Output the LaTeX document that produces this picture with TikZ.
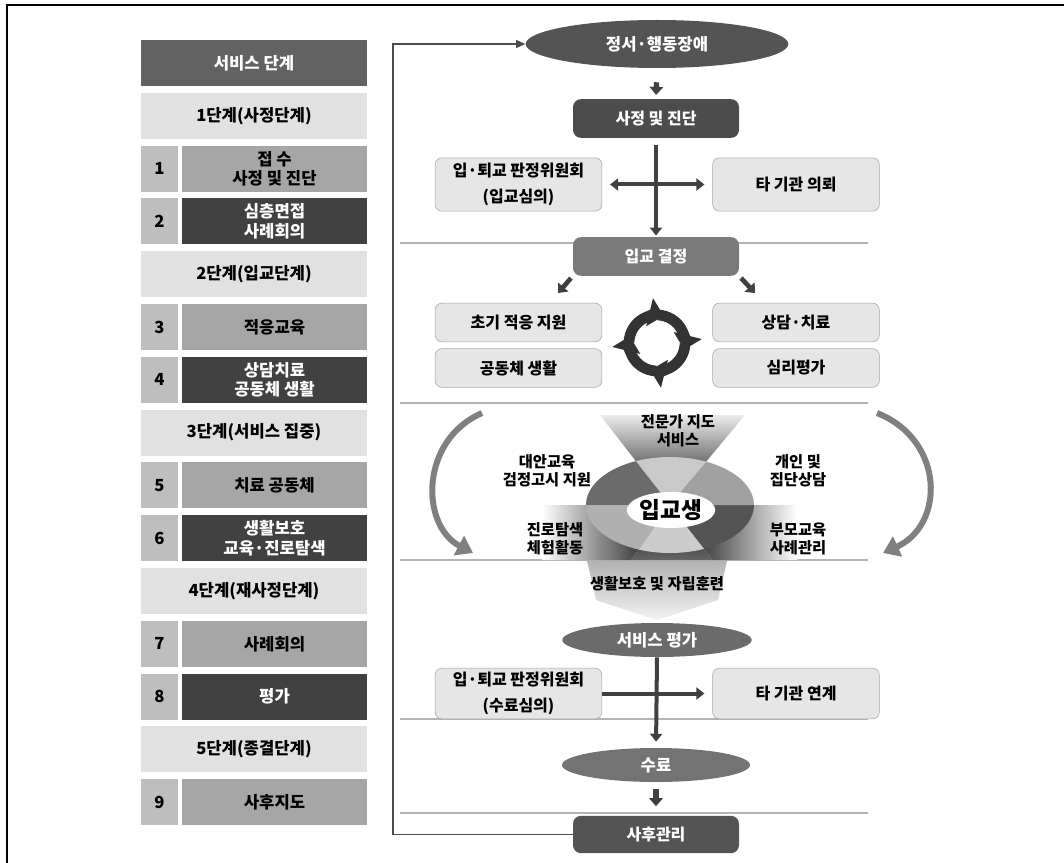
\documentclass[tikz,border=0pt]{standalone}
\usepackage{fontspec}
\setmainfont{Noto Sans CJK KR}
\usepackage{tikz}
\usetikzlibrary{shapes.geometric, arrows.meta, calc}

\definecolor{hdrgray}{HTML}{626262}
\definecolor{stagegray}{HTML}{E1E1E1}
\definecolor{numgray}{HTML}{BEBEBE}
\definecolor{midgray}{HTML}{A6A6A6}
\definecolor{darkgray}{HTML}{414141}
\definecolor{boxgray}{HTML}{E6E6E6}
\definecolor{linegray}{HTML}{B4B4B4}

\tikzset{
  hd/.tip={Triangle[length=6pt,width=9pt]},
  cell/.style={inner sep=0pt, align=center, minimum height=34.5pt,
    font=\fontsize{12.5}{14.5}\selectfont\bfseries},
  hdr/.style={cell, fill=hdrgray, text=white, minimum width=169.5pt},
  stage/.style={cell, fill=stagegray, minimum width=169.5pt},
  num/.style={cell, fill=numgray, minimum width=27.75pt},
  itemlt/.style={cell, fill=midgray, minimum width=138.75pt},
  itemdk/.style={cell, fill=darkgray, text=white, minimum width=138.75pt},
  sidebox/.style={draw=gray!70, fill=boxgray, rounded corners=5pt, align=center,
    minimum width=125pt, inner sep=0pt, font=\fontsize{12}{19}\selectfont\bfseries},
  flowbox/.style={rounded corners=6pt, text=white, minimum width=124.5pt,
    minimum height=29pt, inner sep=0pt, font=\fontsize{12}{14}\selectfont\bfseries},
  oval/.style={ellipse, text=white, inner sep=0pt, font=\fontsize{12.5}{14}\selectfont\bfseries},
  ringtext/.style={align=center, inner sep=0pt, font=\fontsize{11.5}{13.5}\selectfont\bfseries},
  sep/.style={draw=linegray, line width=0.8pt},
  fatarrow/.style={draw=black!75, line width=4pt, -{Triangle[length=6pt,width=10pt]}},
  crossline/.style={draw=black!75, line width=3pt},
  loopline/.style={draw=black!70, line width=1.1pt, -{Triangle[length=7pt,width=6pt]}},
  sidearrow/.style={draw=black!50, line width=4.5pt, -{Triangle[length=12pt,width=16pt]}},
  cyc/.style={draw=black!80, line width=8pt, -{Triangle[length=11pt,width=21pt]}}
}

\begin{document}
\begin{tikzpicture}[x=0.75pt, y=-0.75pt]
  \useasboundingbox (0,0) rectangle (1064,863);
  \draw[line width=1.2pt] (7,863) -- (7,5) -- (1064,5);

  % service steps
  \node[hdr] (head) at (254,63) {서비스 단계};
  \foreach \i/\t in {1/1단계(사정단계), 4/2단계(입교단계), 7/3단계(서비스 집중),
      10/4단계(재사정단계), 13/5단계(종결단계)}
    \node[stage] (stage\i) at (254,{63+52.8*\i}) {\t};
  \foreach \i/\n/\k/\t in {2/1/itemlt/{접 수\\사정 및 진단}, 3/2/itemdk/{심층면접\\사례회의},
      5/3/itemlt/적응교육, 6/4/itemdk/{상담치료\\공동체 생활}, 8/5/itemlt/치료 공동체,
      9/6/itemdk/{생활보호\\교육·진로탐색}, 11/7/itemlt/사례회의, 12/8/itemdk/평가,
      14/9/itemlt/사후지도} {
    \node[num] (num\n) at (159.5,{63+52.8*\i}) {\n};
    \node[\k] (item\n) at (274.5,{63+52.8*\i}) {\t};
  }

  \foreach \y in {243,403,560,719,813}
    \draw[sep] (400,\y) -- (868,\y);

  % admission
  \node[oval, fill=black!67, minimum width=197pt, minimum height=36pt] (emo) at (657,44) {정서·행동장애};
  \node[flowbox, fill=black!70] (diag) at (656,118.5) {사정 및 진단};
  \node[sidebox, minimum height=40pt] (cmtA) at (518.5,184.5) {입·퇴교 판정위원회\\(입교심의)};
  \node[sidebox, minimum height=40pt] (refer) at (796,184.5) {타 기관 의뢰};
  \node[flowbox, fill=black!52] (admit) at (656,256.5) {입교 결정};
  \node[sidebox, minimum height=29pt] (early) at (518.5,322.5) {초기 적응 지원};
  \node[sidebox, minimum height=29pt] (comm) at (518.5,368) {공동체 생활};
  \node[sidebox, minimum height=29pt] (couns) at (796,322.5) {상담·치료};
  \node[sidebox, minimum height=29pt] (psych) at (796,368) {심리평가};

  \draw[fatarrow, shorten <=10.5pt, shorten >=3pt] (emo.south) -- (diag.north);
  \draw[crossline, -hd, shorten <=5pt, shorten >=1pt] (diag.south) -- (admit.north);
  \draw[crossline, hd-hd, shorten <=6pt, shorten >=6pt] (cmtA.east) -- (refer.west);
  \coordinate (dl) at (558,293);
  \coordinate (dr) at (755,293);
  \draw[fatarrow, line width=3.5pt, shorten <=2pt] (admit.south west) -- (dl);
  \draw[fatarrow, line width=3.5pt, shorten <=2pt] (admit.south east) -- (dr);

  \foreach \a in {0,90,180,270}
    \draw[cyc] (657,343) ++({-(\a+178)}:28) arc[start angle={-(\a+178)}, end angle={-(\a+76)}, radius=28];

  % student services
  \coordinate (ctr) at (670,505);
  \shade[top color=gray!15, middle color=black!80, bottom color=black] (ctr) -- (600,415) -- (745,415) -- cycle;
  \shade[left color=white, middle color=black!55, right color=black] (ctr) -- (542,505) -- (542,560) -- (631,560) -- cycle;
  \shade[right color=white, middle color=black!55, left color=black] (ctr) -- (797,505) -- (797,560) -- (713,560) -- cycle;
  \shade[top color=black, bottom color=black!60] (ctr) -- (631,560) -- (713,560) -- cycle;
  \begin{scope}
    \clip (ctr) ellipse [x radius=84, y radius=48];
    \foreach \a/\b/\c in {50/128/black!21, 128/180/black!58, 180/235/black!31,
        235/308/black!20, 308/360/black!67, 0/50/black!37}
      \fill[\c] (ctr) -- ++({-\a}:150) arc[start angle={-\a}, end angle={-\b}, radius=150] -- cycle;
  \end{scope}
  \node[ellipse, fill=white, minimum width=57pt, minimum height=27pt, inner sep=0pt,
    font=\fontsize{17}{17}\selectfont\bfseries] (student) at (671,510) {입교생};
  \node[ringtext] (expert) at (678,431) {전문가 지도\\서비스};
  \node[ringtext] (alt) at (547,471) {대안교육\\검정고시 지원};
  \node[ringtext] (indiv) at (798,471) {개인 및\\집단상담};
  \node[ringtext] (career) at (555,539) {진로탐색\\체험활동};
  \node[ringtext] (parent) at (798,539) {부모교육\\사례관리};

  \coordinate (lA) at (482,413);
  \coordinate (lB) at (473,553);
  \coordinate (rA) at (877,413);
  \coordinate (rB) at (883,553);
  \draw[sidearrow] (lA) .. controls (420,440) and (420,525) .. (lB);
  \draw[sidearrow] (rA) .. controls (945,440) and (945,525) .. (rB);

  % completion
  \shade[top color=gray!60, bottom color=gray!10] (587,561) -- (727,561) -- (718,600) -- (697,607)
    -- (657,620) -- (617,607) -- (596,600) -- cycle;
  \node[ringtext] (train) at (657,584) {생활보호 및 자립훈련};
  \node[oval, fill=black!58, minimum width=142pt, minimum height=25.5pt] (eval) at (657,640) {서비스 평가};
  \node[sidebox, minimum height=38pt] (cmtB) at (518.5,693.5) {입·퇴교 판정위원회\\(수료심의)};
  \node[sidebox, minimum height=38pt] (link) at (796,693.5) {타 기관 연계};
  \node[oval, fill=black!55, minimum width=141pt, minimum height=25.5pt] (finish) at (656,765) {수료};
  \node[flowbox, fill=black!67, minimum height=28pt] (after) at (656,834.5) {사후관리};

  \draw[crossline, -hd, shorten >=6pt] (cmtB.east) -- (link.west);
  \draw[crossline, -hd, shorten >=4.5pt] (eval.south) -- (finish.north);
  \draw[fatarrow, shorten <=5pt, shorten >=7pt] (finish.south) -- (after.north);

  \coordinate (loopbot) at (393,834.5);
  \draw[loopline] (after.west) -- (loopbot) |- (emo.west);
\end{tikzpicture}
\end{document}
